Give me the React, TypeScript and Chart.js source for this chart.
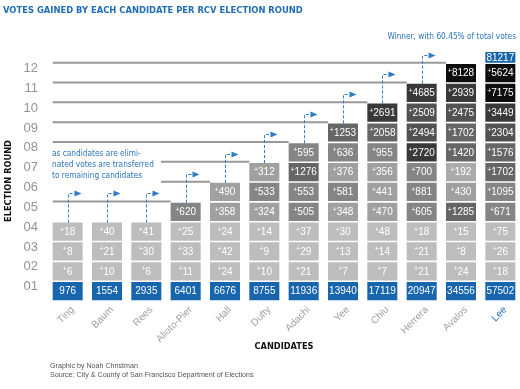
import React, { useEffect, useRef } from 'react';
import { Chart, registerables } from 'chart.js';

Chart.register(...registerables);

// ---------- data ----------
const candidates = ['Ting', 'Baum', 'Rees', 'Alioto-Pier', 'Hall', 'Dufty', 'Adachi', 'Yee', 'Chiu', 'Herrera', 'Avalos', 'Lee'];
const roundLabels = ['01', '02', '03', '04', '05', '06', '07', '08', '09', '10', '11', '12'];

const round01 = [976, 1554, 2935, 6401, 6676, 8755, 11936, 13940, 17119, 20947, 34556, 57502];
const round02 = [6, 10, 6, 11, 24, 10, 21, 7, 7, 21, 24, 18];
const round03 = [8, 21, 30, 33, 42, 9, 29, 13, 14, 21, 8, 26];
const round04 = [18, 40, 41, 25, 24, 14, 37, 30, 48, 18, 15, 75];
const round05 = [null, null, null, 620, 358, 324, 505, 348, 470, 605, 1285, 671];
const round06 = [null, null, null, null, 490, 533, 553, 581, 441, 881, 430, 1095];
const round07 = [null, null, null, null, null, 312, 1276, 376, 356, 700, 192, 1702];
const round08 = [null, null, null, null, null, null, 595, 636, 955, 2720, 1420, 1576];
const round09 = [null, null, null, null, null, null, null, 1253, 2058, 2494, 1702, 2304];
const round10 = [null, null, null, null, null, null, null, null, 2691, 2509, 2475, 3449];
const round11 = [null, null, null, null, null, null, null, null, null, 4685, 2939, 7175];
const round12 = [null, null, null, null, null, null, null, null, null, null, 8128, 5624];
const finalTotal = [null, null, null, null, null, null, null, null, null, null, null, 81217];

const chartTitle = 'VOTES GAINED BY EACH CANDIDATE PER RCV ELECTION ROUND';
const xTitle = 'CANDIDATES';
const yTitle = 'ELECTION ROUND';
const winnerNote = 'Winner, with 60.45% of total votes';
const transferNote = ['as candidates are elimi-', 'nated votes are transferred', 'to remaining candidates'];
const credits = ['Graphic by Noah Christman', 'Source: City & County of San Francisco Department of Elections'];

const roundGains = [round01, round02, round03, round04, round05, round06, round07, round08, round09, round10, round11, round12];
const allRows = [...roundGains, finalTotal];

// ---------- style ----------
const BLUE = '#1665ad';
const TEXT_BLUE = '#2b75bb';
const ARROW_BLUE = '#2f7dc4';
const NARROW = "'Liberation Sans Narrow', 'DejaVu Sans Condensed', sans-serif";
const SANS = "'Liberation Sans', Arial, sans-serif";

function shade(v: number): string {
  if (v < 100) return '#bdbdbd';
  if (v < 300) return '#ababab';
  if (v < 500) return '#a0a0a0';
  if (v < 1200) return '#858585';
  if (v < 2300) return '#666666';
  if (v < 2600) return '#525252';
  if (v < 5000) return '#393939';
  return '#0d0d0d';
}

function fitSize(ctx: CanvasRenderingContext2D, text: string, weight: string, family: string, width: number) {
  ctx.font = `${weight} 100px ${family}`;
  return (100 * width) / ctx.measureText(text).width;
}

const topRound = candidates.map((_, i) => {
  let t = 0;
  roundGains.forEach((vals, ri) => { if (vals[i] != null) t = ri + 1; });
  return t;
});
const lastRound = Math.max(...topRound);

const structurePlugin = {
  id: 'structure',
  afterDatasetsDraw(chart: any) {
    const ctx: CanvasRenderingContext2D = chart.ctx;
    const ys = chart.scales.y;
    const meta0 = chart.getDatasetMeta(0);
    const cellLeft = (i: number) => meta0.data[i].x - meta0.data[i].width / 2;
    ctx.save();
    // step lines
    ctx.strokeStyle = '#999999';
    ctx.lineWidth = 2;
    for (let i = 1; i < candidates.length; i++) {
      if (topRound[i] > topRound[i - 1]) {
        const y = ys.getPixelForValue(topRound[i] + 0.52);
        ctx.beginPath();
        ctx.moveTo(cellLeft(0), y);
        ctx.lineTo(cellLeft(i), y);
        ctx.stroke();
      }
    }
    // transfer arrows
    for (let i = 0; i < candidates.length; i++) {
      if (topRound[i] >= lastRound) continue;
      const x = Math.round(meta0.data[i].x) + 0.5;
      const y0 = ys.getPixelForValue(topRound[i] + 0.46);
      const y1 = Math.round(ys.getPixelForValue(topRound[i] + 1.93)) + 0.5;
      ctx.strokeStyle = ARROW_BLUE;
      ctx.lineWidth = 1;
      ctx.setLineDash([3, 2]);
      ctx.beginPath();
      ctx.moveTo(x, y0);
      ctx.lineTo(x, y1);
      ctx.lineTo(x + 7, y1);
      ctx.stroke();
      ctx.setLineDash([]);
      ctx.fillStyle = ARROW_BLUE;
      ctx.beginPath();
      ctx.moveTo(x + 6, y1 - 3);
      ctx.lineTo(x + 13, y1);
      ctx.lineTo(x + 6, y1 + 3);
      ctx.closePath();
      ctx.fill();
    }
    // cell labels
    ctx.textBaseline = 'middle';
    ctx.fillStyle = '#ffffff';
    allRows.forEach((vals, di) => {
      const meta = chart.getDatasetMeta(di);
      meta.data.forEach((el: any, i: number) => {
        const v = vals[i];
        if (v == null) return;
        const cx = el.x;
        const cy = (el.y + el.base) / 2 + 0.5;
        const num = String(v);
        const plain = di === 0 || di === allRows.length - 1;
        ctx.font = `10px ${SANS}`;
        const nw = ctx.measureText(num).width;
        if (plain) {
          ctx.textAlign = 'center';
          ctx.fillText(num, cx, cy);
        } else {
          ctx.font = `7px ${SANS}`;
          const pw = ctx.measureText('+').width;
          const start = cx - (nw + pw) / 2;
          ctx.textAlign = 'left';
          ctx.fillText('+', start, cy - 2.5);
          ctx.font = `10px ${SANS}`;
          ctx.fillText(num, start + pw, cy);
        }
      });
    });
    ctx.restore();
  },
  afterDraw(chart: any) {
    const ctx: CanvasRenderingContext2D = chart.ctx;
    ctx.save();
    // white box behind note
    ctx.fillStyle = '#ffffff';
    ctx.fillRect(48, 146, 113, 38);
    ctx.textBaseline = 'middle';
    ctx.textAlign = 'left';
    const noteSize = fitSize(ctx, transferNote[1], 'normal', NARROW, 102);
    ctx.font = `normal ${noteSize}px ${NARROW}`;
    ctx.fillStyle = TEXT_BLUE;
    transferNote.forEach((t, k) => ctx.fillText(t, 52, 154 + k * 11));
    ctx.textAlign = 'right';
    ctx.fillText(winnerNote, 516, 37);
    // title
    ctx.textAlign = 'left';
    const ts = fitSize(ctx, chartTitle, 'bold', NARROW, 300);
    ctx.font = `bold ${ts}px ${NARROW}`;
    ctx.fillStyle = '#1f6db4';
    ctx.fillText(chartTitle, 3, 10.5);
    // axis titles
    ctx.fillStyle = '#111111';
    const xs = fitSize(ctx, xTitle, 'bold', NARROW, 59);
    ctx.font = `bold ${xs}px ${NARROW}`;
    ctx.textAlign = 'center';
    ctx.fillText(xTitle, 284, 347);
    const ysz = fitSize(ctx, yTitle, 'bold', NARROW, 82);
    ctx.font = `bold ${ysz}px ${NARROW}`;
    ctx.save();
    ctx.translate(8.5, 181);
    ctx.rotate(-Math.PI / 2);
    ctx.fillText(yTitle, 0, 0);
    ctx.restore();
    // credits
    ctx.textAlign = 'left';
    ctx.fillStyle = '#555555';
    const cs = fitSize(ctx, credits[1], 'normal', SANS, 204);
    ctx.font = `normal ${cs}px ${SANS}`;
    credits.forEach((t, k) => ctx.fillText(t, 50, 366 + k * 9.5));
    ctx.restore();
  },
};

export default function App() {
  const ref = useRef<HTMLCanvasElement | null>(null);
  useEffect(() => {
    if (!ref.current) return;
    const datasets: any[] = allRows.map((vals, di) => {
      const isTotal = di === allRows.length - 1;
      const r = di + 1;
      return {
        label: isTotal ? 'total' : roundLabels[di],
        data: vals.map((v) => (v == null ? null : isTotal ? [12.52, 13.06] : [r - 0.46, r + 0.46])),
        backgroundColor: vals.map((v) => (v == null ? 'rgba(0,0,0,0)' : di === 0 || isTotal ? BLUE : shade(v))),
        borderWidth: 0,
        grouped: false,
        barPercentage: 0.763,
        categoryPercentage: 1,
      };
    });
    const chart = new Chart(ref.current, {
      type: 'bar',
      data: { labels: candidates, datasets },
      options: {
        animation: false,
        responsive: false,
        devicePixelRatio: 1,
        layout: { padding: { top: 43.3, right: 0, left: 0, bottom: 0 } },
        plugins: { legend: { display: false }, tooltip: { enabled: false }, title: { display: false } },
        scales: {
          x: {
            grid: { display: false, drawTicks: false },
            border: { display: false },
            ticks: {
              autoSkip: false,
              minRotation: 45,
              maxRotation: 45,
              padding: 3,
              labelOffset: 5,
              font: { family: SANS, size: 10 },
              color: (c: any) => (c.index === candidates.length - 1 ? TEXT_BLUE : '#a0a0a0'),
            },
            afterFit: (s: any) => { s.height = 88; },
          },
          y: {
            min: 0.5,
            max: 13.5,
            grid: { display: false, drawTicks: false },
            border: { display: false },
            afterBuildTicks: (s: any) => { s.ticks = roundLabels.map((_, k) => ({ value: k + 1 })); },
            ticks: {
              padding: 10,
              labelOffset: -4.5,
              font: { family: SANS, size: 13 },
              color: '#939393',
              callback: (v: any) => roundLabels[Number(v) - 1] ?? '',
            },
            afterFit: (s: any) => { s.width = 48; },
          },
        },
      },
      plugins: [structurePlugin],
    } as any);
    return () => chart.destroy();
  }, []);
  return (
    <div style={{ position: 'fixed', left: 0, top: 0, width: 520, height: 389, background: '#fff' }}>
      <canvas ref={ref} width={520} height={389} style={{ display: 'block', width: 520, height: 389 }} />
    </div>
  );
}
